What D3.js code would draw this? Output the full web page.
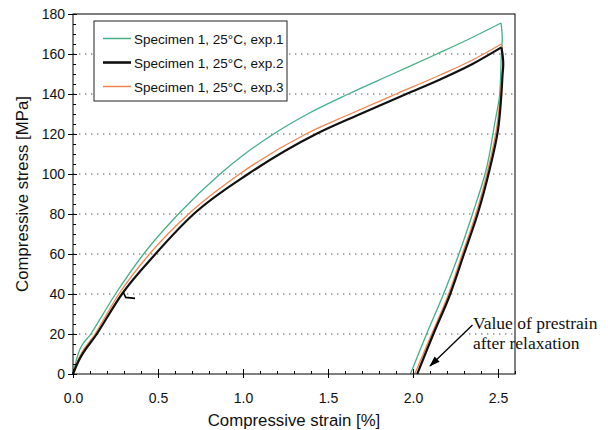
<!DOCTYPE html>
<html><head><meta charset="utf-8">
<script src="https://cdn.jsdelivr.net/npm/d3@7"></script>
<style>body{margin:0;background:#fff}svg{display:block}</style>
</head><body>
<svg id="c" width="608" height="430"></svg>
<script>
// ---- data ----
const seriesNames = ["Specimen 1, 25°C, exp.1","Specimen 1, 25°C, exp.2","Specimen 1, 25°C, exp.3"];
// loading branches
const exp1LoadStrain = [0,0.03,0.105,0.25,0.415,0.62,0.865,1.01,1.18,1.38,1.62,1.88,2.14,2.33,2.518];
const exp1LoadStress = [0,10,20,40,60,80,100,110,120,130,140,150,160,167.5,175.5];
const exp2LoadStrain = [0,0.03,0.14,0.288,0.485,0.71,1.03,1.43,1.69,1.96,2.16,2.35,2.52];
const exp2LoadStress = [0,6,20,40,60,80,100,120,130,140,147.3,155,163.3];
const exp3LoadStrain = [0,0.025,0.13,0.27,0.45,0.68,0.98,1.37,1.63,1.90,2.16,2.35,2.52];
const exp3LoadStress = [0,6,20,40,60,80,100,120,130,140,149.5,157,165];
// relaxation + unloading branches
const exp1UnloadStrain = [2.518,2.525,2.52,2.51,2.48,2.43,2.35,2.27,2.17,2.08,1.985];
const exp1UnloadStress = [175.5,168,160,140,125,102,80,60,38,20,0];
const exp2UnloadStrain = [2.52,2.531,2.527,2.52,2.50,2.45,2.38,2.30,2.21,2.12,2.025];
const exp2UnloadStress = [163.3,155,150,140,122,102,80,60,38,20,0];
const exp3UnloadStrain = [2.52,2.53,2.525,2.515,2.49,2.44,2.37,2.29,2.20,2.11,2.01];
const exp3UnloadStress = [165,157,150,140,122,102,80,60,38,20,0];
const xMajorTicks = [0,0.5,1.0,1.5,2.0,2.5];
const yMajorTicks = [0,20,40,60,80,100,120,140,160,180];
const gridValues = [20,40,60,80,100,120,140,160];
const colors = ["#45af86","#111111","#ef8552"];
const widths = [1.3,2.2,1.3];

// ---- layout ----
const svg = d3.select("#c");
const x = d3.scaleLinear().domain([0,2.6]).range([73,515]);
const y = d3.scaleLinear().domain([0,180]).range([374,14]);
const font = "'Liberation Sans', Arial, sans-serif";

// gridlines
svg.append("g").selectAll("line").data(gridValues).join("line")
  .attr("x1",x(0)).attr("x2",x(2.6)).attr("y1",d=>y(d)).attr("y2",d=>y(d))
  .attr("stroke","#8a8a8a").attr("stroke-width",1.4).attr("stroke-dasharray","1.4,4.6");

// curves
const loadLine = d3.line().x(d=>x(d[0])).y(d=>y(d[1])).curve(d3.curveMonotoneX);
const unloadLine = d3.line().x(d=>x(d[0])).y(d=>y(d[1])).curve(d3.curveMonotoneY);
const loads = [d3.zip(exp1LoadStrain,exp1LoadStress), d3.zip(exp2LoadStrain,exp2LoadStress), d3.zip(exp3LoadStrain,exp3LoadStress)];
const unloads = [d3.zip(exp1UnloadStrain,exp1UnloadStress), d3.zip(exp2UnloadStrain,exp2UnloadStress), d3.zip(exp3UnloadStrain,exp3UnloadStress)];
[0,2,1].forEach(i=>{
  const g = svg.append("g").attr("fill","none").attr("stroke",colors[i]).attr("stroke-width",widths[i]).attr("stroke-linejoin","round");
  g.append("path").datum(loads[i]).attr("d",loadLine);
  g.append("path").datum(unloads[i]).attr("d",unloadLine);
});

// frame
svg.append("rect").attr("x",x(0)).attr("y",y(180)).attr("width",x(2.6)-x(0)).attr("height",y(0)-y(180))
  .attr("fill","none").attr("stroke","#000").attr("stroke-width",1);

// x axis
const xMinor = d3.range(0,2.61,0.1).map(v=>+v.toFixed(2));
const gx = svg.append("g").attr("transform",`translate(0,${y(0)})`);
gx.append("g").call(d3.axisBottom(x).tickValues(xMinor).tickSize(-3).tickFormat(""));
gx.append("g").call(d3.axisBottom(x).tickValues(xMajorTicks).tickSize(-5).tickFormat(""));
gx.append("g").call(d3.axisBottom(x).tickValues(xMajorTicks).tickSize(4).tickPadding(15).tickFormat(d3.format(".1f")));
gx.selectAll(".domain").remove();
gx.selectAll("text").attr("font-family",font).attr("font-size",14).attr("fill","#111");

// y axis
const yMinor = d3.range(0,181,5);
const gy = svg.append("g").attr("transform",`translate(${x(0)},0)`);
gy.append("g").call(d3.axisLeft(y).tickValues(yMinor).tickSize(-3).tickFormat(""));
gy.append("g").call(d3.axisLeft(y).tickValues(yMajorTicks).tickSize(-4).tickFormat(""));
gy.append("g").call(d3.axisLeft(y).tickValues(yMajorTicks).tickSize(5).tickPadding(3).tickFormat(d3.format("d")));
gy.selectAll(".domain").remove();
gy.selectAll("text").attr("font-family",font).attr("font-size",14).attr("fill","#111");

// axis titles
svg.append("text").attr("x",(x(0)+x(2.6))/2).attr("y",426).attr("text-anchor","middle")
  .attr("font-family",font).attr("font-size",16.8).attr("fill","#111").text("Compressive strain [%]");
svg.append("text").attr("transform",`translate(28,${(y(0)+y(180))/2}) rotate(-90)`).attr("text-anchor","middle")
  .attr("font-family",font).attr("font-size",16.8).attr("fill","#111").text("Compressive stress [MPa]");

// legend
const lg = svg.append("g");
lg.append("rect").attr("x",94).attr("y",21).attr("width",193).attr("height",80)
  .attr("fill","#fff").attr("stroke","#222").attr("stroke-width",1);
seriesNames.forEach((n,i)=>{
  const yy = 38.5 + i*24;
  lg.append("line").attr("x1",103).attr("x2",131).attr("y1",yy).attr("y2",yy)
    .attr("stroke",colors[i]).attr("stroke-width",i===1?2.6:1.5);
  lg.append("text").attr("x",134).attr("y",yy+5).attr("font-family",font).attr("font-size",13.5)
    .attr("fill","#111").text(n);
});

// annotation
svg.append("defs").append("marker").attr("id","ah").attr("viewBox","0 0 12 10").attr("refX",11).attr("refY",5)
  .attr("markerUnits","userSpaceOnUse").attr("markerWidth",12).attr("markerHeight",9).attr("orient","auto")
  .append("path").attr("d","M0,1 L12,5 L0,9 Z").attr("fill","#000");
svg.append("line").attr("x1",x(2.35)).attr("y1",y(24.5)).attr("x2",x(2.10)).attr("y2",y(4))
  .attr("stroke","#000").attr("stroke-width",1.3).attr("marker-end","url(#ah)");
const serif = "'Liberation Serif','Times New Roman',serif";
svg.append("text").attr("x",473).attr("y",329).attr("font-family",serif).attr("font-size",17.5).attr("fill","#111").text("Value of prestrain");
svg.append("text").attr("x",473).attr("y",349).attr("font-family",serif).attr("font-size",17.5).attr("fill","#111").text("after relaxation");

// small mark pointing at exp.2 curve
svg.append("path").attr("d",d3.line()([[x(0.295),y(41)],[x(0.31),y(38.3)],[x(0.365),y(37.8)]]))
  .attr("fill","none").attr("stroke","#000").attr("stroke-width",1.7);
</script>
</body></html>
